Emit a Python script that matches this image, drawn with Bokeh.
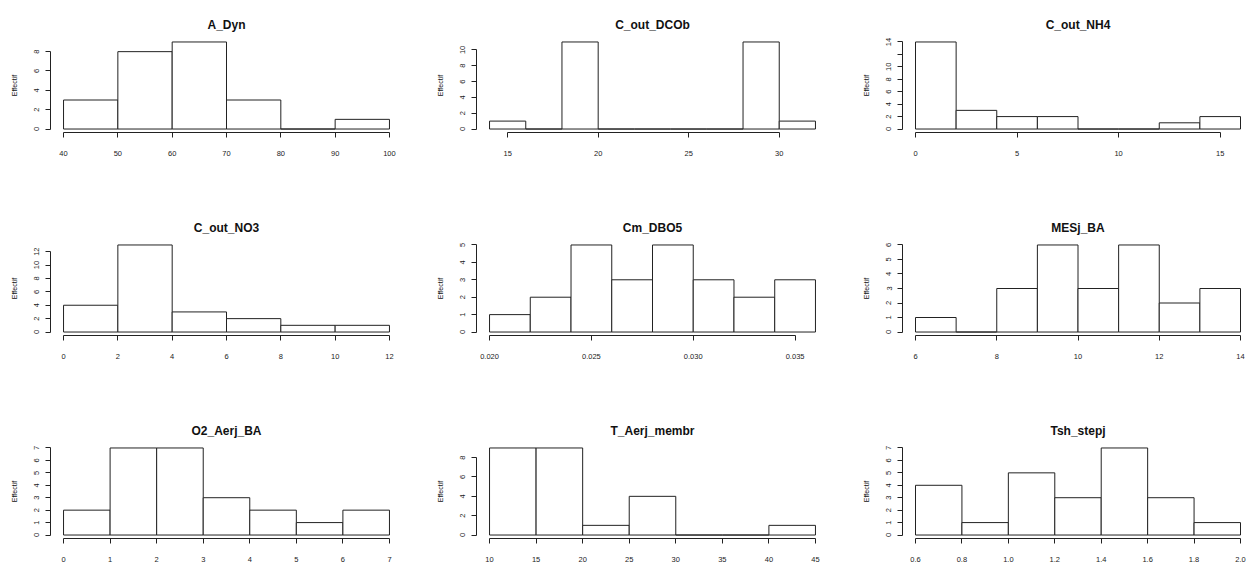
from bokeh.plotting import figure
from bokeh.layouts import column, row
from bokeh.models import FixedTicker, Range1d
from bokeh.embed import file_html
from bokeh.resources import INLINE

# ---- data ----
titles = ["A_Dyn", "C_out_DCOb", "C_out_NH4",
          "C_out_NO3", "Cm_DBO5", "MESj_BA",
          "O2_Aerj_BA", "T_Aerj_membr", "Tsh_stepj"]

a_dyn_breaks = [40, 50, 60, 70, 80, 90, 100]
a_dyn_counts = [3, 8, 9, 3, 0, 1]
a_dyn_xticks = [40, 50, 60, 70, 80, 90, 100]
a_dyn_yticks = [0, 2, 4, 6, 8]

dcob_breaks = [14, 16, 18, 20, 22, 24, 26, 28, 30, 32]
dcob_counts = [1, 0, 11, 0, 0, 0, 0, 11, 1]
dcob_xticks = [15, 20, 25, 30]
dcob_yticks = [0, 2, 4, 6, 8, 10]

nh4_breaks = [0, 2, 4, 6, 8, 10, 12, 14, 16]
nh4_counts = [14, 3, 2, 2, 0, 0, 1, 2]
nh4_xticks = [0, 5, 10, 15]
nh4_yticks = [0, 2, 4, 6, 8, 10, 12, 14]

no3_breaks = [0, 2, 4, 6, 8, 10, 12]
no3_counts = [4, 13, 3, 2, 1, 1]
no3_xticks = [0, 2, 4, 6, 8, 10, 12]
no3_yticks = [0, 2, 4, 6, 8, 10, 12]

dbo5_breaks = [0.020, 0.022, 0.024, 0.026, 0.028, 0.030, 0.032, 0.034, 0.036]
dbo5_counts = [1, 2, 5, 3, 5, 3, 2, 3]
dbo5_xticks = [0.020, 0.025, 0.030, 0.035]
dbo5_yticks = [0, 1, 2, 3, 4, 5]

mes_breaks = [6, 7, 8, 9, 10, 11, 12, 13, 14]
mes_counts = [1, 0, 3, 6, 3, 6, 2, 3]
mes_xticks = [6, 8, 10, 12, 14]
mes_yticks = [0, 1, 2, 3, 4, 5, 6]

o2_breaks = [0, 1, 2, 3, 4, 5, 6, 7]
o2_counts = [2, 7, 7, 3, 2, 1, 2]
o2_xticks = [0, 1, 2, 3, 4, 5, 6, 7]
o2_yticks = [0, 1, 2, 3, 4, 5, 6, 7]

taer_breaks = [10, 15, 20, 25, 30, 35, 40, 45]
taer_counts = [9, 9, 1, 4, 0, 0, 1]
taer_xticks = [10, 15, 20, 25, 30, 35, 40, 45]
taer_yticks = [0, 2, 4, 6, 8]

tsh_breaks = [0.6, 0.8, 1.0, 1.2, 1.4, 1.6, 1.8, 2.0]
tsh_counts = [4, 1, 5, 3, 7, 3, 1]
tsh_xticks = [0.6, 0.8, 1.0, 1.2, 1.4, 1.6, 1.8, 2.0]
tsh_yticks = [0, 1, 2, 3, 4, 5, 6, 7]

y_label = "Effectif"

FONT = "Liberation Sans"
INK = "#222222"


def fmt_labels(ticks, fmt, skip=()):
    out = {}
    for t in ticks:
        out[t] = "" if t in skip else (fmt % t)
    return out


def make_hist(title, breaks, counts, xticks, yticks, xfmt, yskip,
              width, height, b_right, b_bottom):
    lo, hi = breaks[0], breaks[-1]
    pad = 0.04 * (hi - lo)
    ymax = max(counts)
    p = figure(width=width, height=height,
               x_range=Range1d(lo - pad, hi + pad),
               y_range=Range1d(-0.04 * ymax, 1.04 * ymax),
               output_backend="svg", toolbar_location=None,
               min_border_left=50, min_border_right=b_right,
               min_border_top=38, min_border_bottom=b_bottom,
               background_fill_color="white", border_fill_color="white")
    p.outline_line_color = None
    p.grid.visible = False

    p.quad(left=breaks[:-1], right=breaks[1:], bottom=0, top=counts,
           fill_color="white", line_color=INK, line_width=1)

    p.title.text = title
    p.title.align = "center"
    p.title.vertical_align = "top"
    p.title.text_font = FONT
    p.title.text_font_size = "12px"
    p.title.text_font_style = "bold"
    p.title.text_color = "#111111"
    p.title.standoff = 10

    for ax in (p.xaxis[0], p.yaxis[0]):
        ax.axis_line_color = INK
        ax.axis_line_width = 1
        ax.major_tick_line_color = INK
        ax.major_tick_in = 0
        ax.major_tick_out = 5
        ax.minor_tick_line_color = None
        ax.major_label_text_font = FONT
        ax.major_label_text_font_size = "7.5px"
        ax.major_label_text_color = "#222222"

    xa = p.xaxis[0]
    xa.ticker = FixedTicker(ticks=xticks)
    xa.bounds = (xticks[0], xticks[-1])
    xa.major_label_overrides = fmt_labels(xticks, xfmt)
    xa.major_label_standoff = 13

    ya = p.yaxis[0]
    ya.ticker = FixedTicker(ticks=yticks)
    ya.bounds = (yticks[0], yticks[-1])
    ya.major_label_overrides = fmt_labels(yticks, "%d", yskip)
    ya.major_label_orientation = "vertical"
    ya.major_label_standoff = 6
    ya.axis_label = y_label
    ya.axis_label_text_font = FONT
    ya.axis_label_text_font_size = "7px"
    ya.axis_label_text_font_style = "normal"
    ya.axis_label_text_color = "#111111"
    ya.axis_label_standoff = 14
    return p


panels = [
    (a_dyn_breaks, a_dyn_counts, a_dyn_xticks, a_dyn_yticks, "%d", ()),
    (dcob_breaks, dcob_counts, dcob_xticks, dcob_yticks, "%d", ()),
    (nh4_breaks, nh4_counts, nh4_xticks, nh4_yticks, "%d", (12,)),
    (no3_breaks, no3_counts, no3_xticks, no3_yticks, "%d", ()),
    (dbo5_breaks, dbo5_counts, dbo5_xticks, dbo5_yticks, "%.3f", ()),
    (mes_breaks, mes_counts, mes_xticks, mes_yticks, "%d", ()),
    (o2_breaks, o2_counts, o2_xticks, o2_yticks, "%d", ()),
    (taer_breaks, taer_counts, taer_xticks, taer_yticks, "%d", ()),
    (tsh_breaks, tsh_counts, tsh_xticks, tsh_yticks, "%.1f", ()),
]

col_w = [426, 426, 401]
col_br = [24, 24, 0]
row_h = [203, 203, 160]
row_bb = [71, 71, 28]

rows = []
for r in range(3):
    figs = []
    for c in range(3):
        i = r * 3 + c
        br, cn, xt, yt, xf, ys = panels[i]
        figs.append(make_hist(titles[i], br, cn, xt, yt, xf, ys,
                              col_w[c], row_h[r], col_br[c], row_bb[r]))
    rows.append(row(*figs, spacing=0))

layout = column(*rows, spacing=0)

with open("out.html", "w") as f:
    f.write(file_html(layout, INLINE))
